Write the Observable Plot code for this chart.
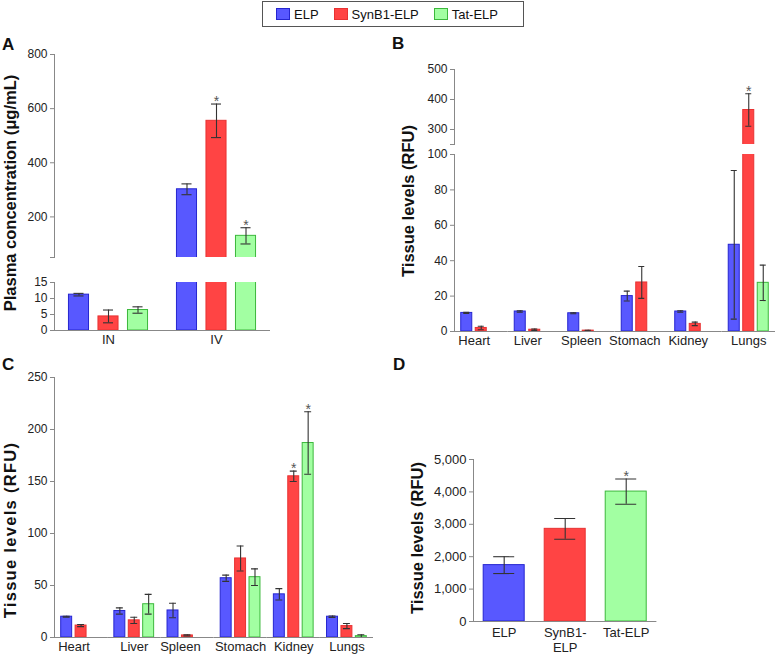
<!DOCTYPE html>
<html><head><meta charset="utf-8">
<script src="https://cdn.jsdelivr.net/npm/d3@7"></script>
<script src="https://cdn.jsdelivr.net/npm/@observablehq/plot@0.6"></script>
<style>
body{margin:0;background:#fff;font-family:"Liberation Sans",Arial,sans-serif;}
#root{position:relative;width:777px;height:654px;overflow:hidden;background:#fff;}
.seg{position:absolute;}
.plab{position:absolute;font-weight:bold;font-size:17px;line-height:1;color:#111;}
.ytitle{position:absolute;font-weight:bold;font-size:16.5px;line-height:1;color:#111;white-space:nowrap;transform:translate(-50%,-50%) rotate(-90deg);}
#legend{position:absolute;left:262px;top:1px;width:247px;height:24px;border:1px solid #555;display:flex;align-items:center;padding-left:13px;box-sizing:content-box;font-size:13px;color:#111;}
#legend .item{display:flex;align-items:center;margin-right:15px;}
#legend .sw{width:12px;height:10px;border:1px solid;margin-right:4px;}
</style></head>
<body><div id="root"></div>
<script>
// ---- series ----
const series = ["ELP", "SynB1-ELP", "Tat-ELP"];
const seriesFill = ["#5858ff", "#ff4444", "#a2ffa2"];
const seriesStroke = ["#2525d0", "#e83232", "#3cb83c"];

// ---- Panel A: plasma concentration ----
const routes = ["IN", "IV"];
const plasmaELP = [11.2, 302];
const plasmaELPErr = [0.4, 20];
const plasmaSynB1 = [4.4, 555];
const plasmaSynB1Err = [2.0, 62];
const plasmaTat = [6.4, 130];
const plasmaTatErr = [1.0, 30];
const plasmaSig = [[false, false], [false, true], [false, true]];
const plasmaUpperTicks = [50, 200, 400, 600, 800];
const plasmaLowerTicks = [0, 5, 10, 15];

// ---- Panels B and C: tissue levels ----
const organs = ["Heart", "Liver", "Spleen", "Stomach", "Kidney", "Lungs"];
// B (IN route)
const inELP = [10.5, 11.3, 10.3, 20, 11.3, 49];
const inELPErr = [0.3, 0.4, 0.3, 2.8, 0.4, 42];
const inSynB1 = [2.0, 1.0, 0.5, 27.7, 4.3, 365];
const inSynB1Err = [1.0, 0.4, 0.2, 9, 1.0, 54];
const inTat = [null, null, null, null, null, 27.5];
const inTatErr = [null, null, null, null, null, 10];
const inSig = [[], [false, false, false, false, false, true], []];
const inUpperTicks = [250, 300, 400, 500];
const inLowerTicks = [0, 20, 40, 60, 80, 100];
// C (IV route)
const ivELP = [20, 25.5, 26, 57, 41.5, 20];
const ivELPErr = [0.5, 3, 7, 3, 5.5, 0.7];
const ivSynB1 = [11.5, 16.5, 2, 76, 155, 11];
const ivSynB1Err = [1, 3, 0.5, 12, 5, 2.5];
const ivTat = [null, 32, null, 58, 187, 1.3];
const ivTatErr = [null, 9.5, null, 8, 30, 1.3];
const ivSig = [[], [false, false, false, false, true, false], [false, false, false, false, true, false]];
const ivTicks = [0, 50, 100, 150, 200, 250];

// ---- Panel D ----
const brainGroup = ["Brain"];
const brainValues = [1740, 2860, 4010];
const brainErr = [260, 320, 390];
const brainSig = [false, false, true];
const brainTickLabels = ["ELP", "SynB1-\nELP", "Tat-ELP"];
const brainTicks = [0, 1000, 2000, 3000, 4000, 5000];

function makeRows(groups, vals, errs, sigs) {
  const out = [];
  series.forEach((s, si) => {
    groups.forEach((g, gi) => {
      const v = vals[si][gi];
      if (v == null) return;
      const e = errs[si][gi] ?? 0;
      out.push({group: g, series: s, si, value: v, lo: v - e, hi: v + e, sig: !!(sigs[si] && sigs[si][gi])});
    });
  });
  return out;
}

const FONT = "'Liberation Sans', Arial, sans-serif";

function segment(o) {
  const rows = o.rows;
  const [y0, y1] = o.yDomain;
  const marks = [];
  series.forEach((s, si) => {
    marks.push(Plot.barY(rows.filter(d => d.si === si), {
      fx: "group", x: "series", y1: 0, y2: "value",
      fill: seriesFill[si], stroke: seriesStroke[si], strokeWidth: 1, clip: true
    }));
  });
  marks.push(
    Plot.ruleX(rows, {fx: "group", x: "series", y1: "lo", y2: "hi", stroke: "#333", strokeWidth: 1.1, clip: true}),
    Plot.tickY(rows, {fx: "group", x: "series", y: "hi", stroke: "#333", strokeWidth: 1.1, insetLeft: o.cap, insetRight: o.cap, clip: true}),
    Plot.tickY(rows, {fx: "group", x: "series", y: "lo", stroke: "#333", strokeWidth: 1.1, insetLeft: o.cap, insetRight: o.cap, clip: true}),
    Plot.text(rows.filter(d => d.sig && d.hi >= y0 && d.hi <= y1), {fx: "group", x: "series", y: "hi", text: () => "*", fontSize: 14, fill: "#555", lineAnchor: "bottom", dy: 2}),
    Plot.frame({anchor: "left", facetAnchor: "left", stroke: "#888"}),
    Plot.axisY({ticks: o.yTicks, tickSize: 4, tickPadding: 3, stroke: "#888", fill: "#222", fontSize: o.tickFont || 12,
      tickFormat: d => d === o.yBreak ? "" : (o.fmt ? o.fmt(d) : String(d)), label: null})
  );
  if (o.bottom) marks.push(Plot.ruleY([y0], {stroke: "#888"}));
  if (o.labels) {
    const lab = o.groups.map((g, gi) => ({group: g, full: o.fullGroups[gi]}));
    marks.push(
      Plot.text(lab.filter(d => d.full), {fx: "group", text: "group", frameAnchor: "bottom", lineAnchor: "top", dy: 4, fontSize: 13, fill: "#222"}),
      Plot.text(lab.filter(d => !d.full), {fx: "group", text: "group", frameAnchor: "bottom", lineAnchor: "top", dy: 4, dx: -7, fontSize: 13, fill: "#222"})
    );
  }
  if (o.xAxis) marks.push(Plot.axisX({tickSize: 0, tickPadding: 5, fontSize: 13, lineHeight: 1.15, fill: "#222", label: null,
    tickFormat: d => o.xAxis[series.indexOf(d)]}));
  const svg = Plot.plot({
    width: o.width, height: o.height,
    marginLeft: o.ml, marginRight: o.mr, marginTop: o.mt, marginBottom: o.mb,
    fx: {domain: o.groups, padding: 0, axis: null, round: false},
    x: {domain: series, paddingInner: o.pIn, paddingOuter: o.pOut, axis: null, round: false},
    y: {domain: o.yDomain},
    style: {fontFamily: FONT, background: "transparent", overflow: "visible"},
    marks
  });
  svg.classList.add("seg");
  svg.style.left = o.left + "px";
  svg.style.top = o.top + "px";
  return svg;
}

const root = document.getElementById("root");

// Legend
const legend = document.createElement("div");
legend.id = "legend";
series.forEach((s, i) => {
  const it = document.createElement("div"); it.className = "item";
  const sw = document.createElement("div"); sw.className = "sw";
  sw.style.background = seriesFill[i]; sw.style.borderColor = seriesStroke[i];
  const t = document.createElement("span"); t.textContent = s;
  it.append(sw, t); legend.append(it);
});
root.append(legend);

// Panel A
const plasmaRows = makeRows(routes, [plasmaELP, plasmaSynB1, plasmaTat], [plasmaELPErr, plasmaSynB1Err, plasmaTatErr], plasmaSig);
const plasmaFull = routes.map(() => true);
root.append(segment({rows: plasmaRows, groups: routes, yDomain: [50, 800], yTicks: plasmaUpperTicks, yBreak: 50,
  width: 275, height: 217, ml: 54, mr: 5, mt: 14, mb: 0, pIn: 0.32, pOut: 0.49, cap: 5, left: 0, top: 40}));
root.append(segment({rows: plasmaRows, groups: routes, yDomain: [0, 15], yTicks: plasmaLowerTicks,
  width: 275, height: 85, ml: 54, mr: 5, mt: 12, mb: 25, pIn: 0.32, pOut: 0.49, cap: 5, left: 0, top: 270,
  bottom: true, labels: true, fullGroups: plasmaFull}));

// Panel B
const inRows = makeRows(organs, [inELP, inSynB1, inTat], [inELPErr, inSynB1Err, inTatErr], inSig);
const inFull = organs.map((g, i) => inTat[i] != null);
root.append(segment({rows: inRows, groups: organs, yDomain: [250, 500], yTicks: inUpperTicks, yBreak: 250,
  width: 387, height: 89, ml: 64, mr: 2, mt: 14, mb: 0, pIn: 0.24, pOut: 0.465, cap: 2.5, left: 390, top: 55}));
root.append(segment({rows: inRows, groups: organs, yDomain: [0, 100], yTicks: inLowerTicks,
  width: 387, height: 210, ml: 64, mr: 2, mt: 8, mb: 25, pIn: 0.24, pOut: 0.465, cap: 2.5, left: 390, top: 146,
  bottom: true, labels: true, fullGroups: inFull}));

// Panel C
const ivRows = makeRows(organs, [ivELP, ivSynB1, ivTat], [ivELPErr, ivSynB1Err, ivTatErr], ivSig);
const ivFull = organs.map((g, i) => ivTat[i] != null);
root.append(segment({rows: ivRows, groups: organs, yDomain: [0, 250], yTicks: ivTicks,
  width: 380, height: 294, ml: 54, mr: 7, mt: 17, mb: 17, pIn: 0.24, pOut: 0.465, cap: 2, left: 0, top: 360,
  bottom: true, labels: true, fullGroups: ivFull}));

// Panel D
const brainRows = makeRows(brainGroup, brainValues.map(v => [v]), brainErr.map(v => [v]), brainSig.map(v => [v]));
root.append(segment({rows: brainRows, groups: brainGroup, yDomain: [0, 5000], yTicks: brainTicks, fmt: d3.format(","),
  tickFont: 13, width: 270, height: 212, ml: 83, mr: 3.6, mt: 17, mb: 33, pIn: 0.328, pOut: 0.167, cap: 10,
  left: 390, top: 442, bottom: true, xAxis: brainTickLabels}));

// Panel letters and axis titles
function addDiv(cls, text, left, top, extra) {
  const d = document.createElement("div");
  d.className = cls; d.textContent = text;
  d.style.left = left + "px"; d.style.top = top + "px";
  if (extra) Object.assign(d.style, extra);
  root.append(d);
}
addDiv("plab", "A", 2, 36);
addDiv("plab", "B", 392, 35);
addDiv("plab", "C", 2, 356);
addDiv("plab", "D", 393, 356);
addDiv("ytitle", "Plasma concentration (μg/mL)", 10, 193);
addDiv("ytitle", "Tissue levels (RFU)", 408, 201);
addDiv("ytitle", "Tissue levels (RFU)", 10, 530, {letterSpacing: "1.3px"});
addDiv("ytitle", "Tissue levels (RFU)", 417, 538);
</script>
</body></html>
